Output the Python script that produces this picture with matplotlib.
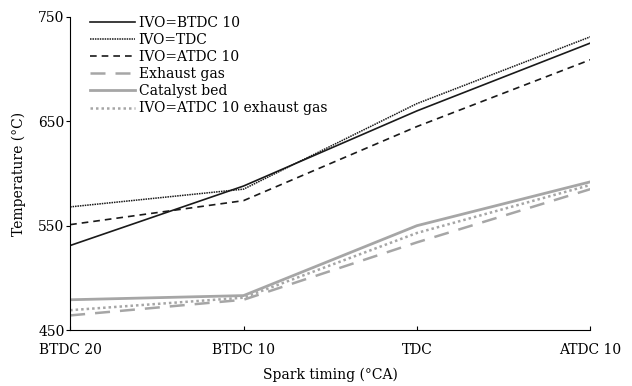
import numpy as np
import matplotlib
matplotlib.use('Agg')
import matplotlib.pyplot as plt

plt.rcParams['font.family'] = ['DejaVu Serif']

timing = ['BTDC 20', 'BTDC 10', 'TDC', 'ATDC 10']

ivo_btdc10 = [531, 588, 660, 725]
ivo_tdc = [568, 585, 667, 731]
ivo_atdc10 = [551, 574, 645, 709]
exhaust_gas = [464, 479, 534, 585]
catalyst_bed = [479, 483, 550, 592]
ivo_atdc10_exh = [469, 481, 543, 589]

x = np.arange(len(timing))
grey = '#a6a6a6'

fig = plt.figure(figsize=(6.32, 3.86), dpi=100)
ax = fig.add_axes([0.111, 0.145, 0.823, 0.811])

ax.plot(x, ivo_btdc10, c='#1a1a1a', lw=1.2, label='IVO=BTDC 10')
ax.plot(x, ivo_tdc, c='#1a1a1a', lw=1.1, ls=(0, (1, 0.6)), label='IVO=TDC')
ax.plot(x, ivo_atdc10, c='#1a1a1a', lw=1.2, ls=(0, (4, 3)), label='IVO=ATDC 10')
ax.plot(x, exhaust_gas, c=grey, lw=1.8, ls=(0, (6, 4)), label='Exhaust gas')
ax.plot(x, catalyst_bed, c=grey, lw=2.0, label='Catalyst bed')
ax.plot(x, ivo_atdc10_exh, c=grey, lw=1.8, ls=(0, (1, 1.2)), label='IVO=ATDC 10 exhaust gas')

ax.set_xlim(0, 3)
ax.set_ylim(450, 750)
ax.set_xticks(x)
ax.set_xticklabels(timing)
ax.set_yticks([450, 550, 650, 750])
ax.spines['top'].set_visible(False)
ax.spines['right'].set_visible(False)
ax.tick_params(axis='x', direction='in', length=3, labelsize=10, pad=9)
ax.tick_params(axis='y', direction='out', length=3, labelsize=10, pad=1)

ax.set_xlabel('Spark timing (°CA)', fontsize=10, labelpad=8)
ax.set_ylabel('Temperature (°C)', fontsize=10, labelpad=9)

ax.legend(loc='upper left', frameon=False, fontsize=10, handlelength=3.2,
          handletextpad=0.3, labelspacing=0.22, borderaxespad=0.1,
          bbox_to_anchor=(0.025, 1.025))

fig.savefig('out.png', dpi=100)
